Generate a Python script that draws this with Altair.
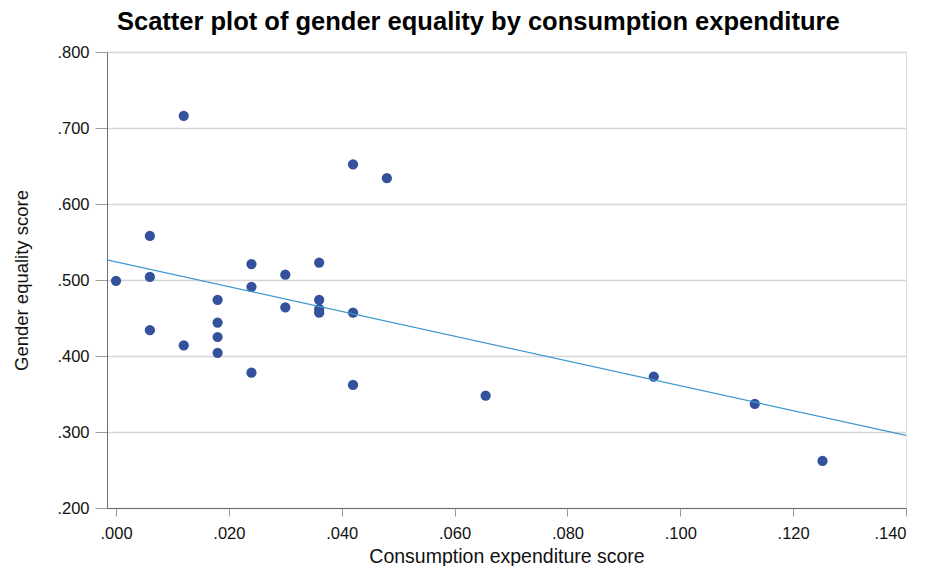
import altair as alt
import pandas as pd

# Values
consumption = [0.012, 0.042, 0.048, 0.006, 0.024, 0.030, 0.036, 0.000, 0.006,
               0.024, 0.018, 0.036, 0.030, 0.036, 0.036, 0.042, 0.006, 0.018,
               0.018, 0.012, 0.018, 0.024, 0.042, 0.0655, 0.0953, 0.1132, 0.1252]
gender = [0.716, 0.652, 0.634, 0.558, 0.521, 0.507, 0.523, 0.499, 0.504,
          0.491, 0.474, 0.474, 0.464, 0.462, 0.457, 0.457, 0.434, 0.444,
          0.425, 0.414, 0.404, 0.378, 0.362, 0.348, 0.373, 0.337, 0.262]

x_ticks = [0.0, 0.02, 0.04, 0.06, 0.08, 0.10, 0.12, 0.14]
y_ticks = [0.2, 0.3, 0.4, 0.5, 0.6, 0.7, 0.8]
x_domain = [-0.0016, 0.14]
y_domain = [0.2, 0.8]

df = pd.DataFrame({"x": consumption, "y": gender})

FONT = "Liberation Sans"
label_expr = "substring(format(datum.value, '.3f'), 1)"

x_enc = alt.X(
    "x:Q",
    scale=alt.Scale(domain=x_domain, nice=False, zero=False),
    axis=alt.Axis(
        title="Consumption expenditure score",
        values=x_ticks,
        labelExpr=label_expr,
        grid=False,
        tickSize=8,
        tickColor="#9a9a9a",
        domainColor="#6f6f6f",
        labelFont=FONT,
        labelFontSize=16.5,
        labelColor="#111111",
        labelPadding=9,
        titleFont=FONT,
        titleFontSize=19.5,
        titleFontWeight="normal",
        titleColor="#111111",
        titlePadding=6,
    ),
)
y_enc = alt.Y(
    "y:Q",
    scale=alt.Scale(domain=y_domain, nice=False, zero=False),
    axis=alt.Axis(
        title="Gender equality score",
        values=y_ticks,
        labelExpr=label_expr,
        grid=True,
        gridColor="#d6d6d6",
        gridWidth=1.5,
        tickSize=12,
        tickColor="#9a9a9a",
        domainColor="#6f6f6f",
        labelFont=FONT,
        labelFontSize=16.5,
        labelColor="#111111",
        labelPadding=6,
        titleFont=FONT,
        titleFontSize=18.5,
        titleFontWeight="normal",
        titleColor="#111111",
        titlePadding=25,
    ),
)

points = alt.Chart(df).mark_point(
    filled=True, shape="circle", size=105, color="#34519c", opacity=1
).encode(x=x_enc, y=y_enc)

fit = alt.Chart(df).transform_regression(
    "x", "y", extent=x_domain
).mark_line(color="#3f97cf", strokeWidth=1.2).encode(x="x:Q", y="y:Q")

chart = alt.layer(points, fit).properties(
    width=799,
    height=456,
    title=alt.TitleParams(
        "Scatter plot of gender equality by consumption expenditure",
        anchor="start",
        frame="group",
        dx=10,
        offset=9,
        font=FONT,
        fontSize=25.5,
        fontWeight="bold",
        color="#000000",
    ),
    autosize=alt.AutoSizeParams(type="none"),
    padding={"left": 99, "top": 44, "right": 15, "bottom": 58},
).configure_view(stroke=None).configure(background="white")

chart.save("out.html", embed_options={"renderer": "svg", "actions": False})
